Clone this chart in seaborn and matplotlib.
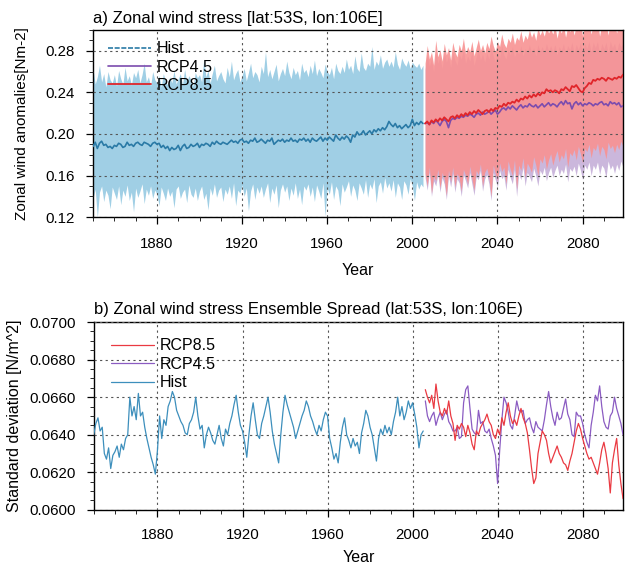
import numpy as np
import pandas as pd
import matplotlib
matplotlib.use("Agg")
import matplotlib.pyplot as plt
from matplotlib.ticker import MultipleLocator
import seaborn as sns

# ---------------- data ----------------
hist_years = list(range(1850, 2006))
rcp_years = list(range(2006, 2100))

hist_mean = [
    0.188, 0.192, 0.186, 0.191, 0.193, 0.189, 0.190, 0.187, 0.188, 0.186,
    0.189, 0.188, 0.191, 0.190, 0.187, 0.188, 0.192, 0.189, 0.190, 0.188,
    0.191, 0.192, 0.190, 0.189, 0.192, 0.191, 0.190, 0.188, 0.191, 0.192,
    0.190, 0.191, 0.187, 0.189, 0.186, 0.188, 0.184, 0.187, 0.185, 0.186,
    0.189, 0.184, 0.188, 0.190, 0.186, 0.187, 0.190, 0.188, 0.189, 0.191,
    0.187, 0.190, 0.189, 0.191, 0.190, 0.188, 0.192, 0.190, 0.193, 0.191,
    0.190, 0.192, 0.191, 0.190, 0.192, 0.194, 0.192, 0.193, 0.191, 0.194,
    0.195, 0.192, 0.193, 0.191, 0.194, 0.193, 0.196, 0.192, 0.193, 0.195,
    0.193, 0.191, 0.194, 0.193, 0.196, 0.190, 0.192, 0.194, 0.193, 0.195,
    0.192, 0.194, 0.193, 0.196, 0.193, 0.194, 0.192, 0.195, 0.194, 0.196,
    0.193, 0.195, 0.192, 0.196, 0.194, 0.193, 0.195, 0.197, 0.193, 0.196,
    0.194, 0.197, 0.195, 0.193, 0.199, 0.196, 0.194, 0.197, 0.195, 0.198,
    0.196, 0.192, 0.199, 0.197, 0.202, 0.199, 0.200, 0.203, 0.199, 0.201,
    0.203, 0.200, 0.204, 0.202, 0.205, 0.203, 0.206, 0.204, 0.207, 0.212,
    0.209, 0.207, 0.210, 0.206, 0.208, 0.205, 0.207, 0.209, 0.206, 0.208,
    0.214, 0.208, 0.211, 0.209, 0.212, 0.210]

hist_upper = [
    0.262, 0.248, 0.255, 0.266, 0.250, 0.258, 0.245, 0.260, 0.252, 0.249,
    0.257, 0.246, 0.261, 0.253, 0.248, 0.264, 0.251, 0.256, 0.247, 0.259,
    0.254, 0.262, 0.249, 0.257, 0.268, 0.250, 0.255, 0.246, 0.260, 0.252,
    0.249, 0.256, 0.245, 0.258, 0.251, 0.247, 0.255, 0.249, 0.261, 0.248,
    0.253, 0.258, 0.247, 0.262, 0.250, 0.256, 0.252, 0.246, 0.259, 0.254,
    0.257, 0.250, 0.272, 0.255, 0.261, 0.249, 0.258, 0.266, 0.251, 0.256,
    0.260, 0.253, 0.249, 0.264, 0.255, 0.270, 0.252, 0.258, 0.262, 0.250,
    0.256, 0.263, 0.251, 0.259, 0.268, 0.254, 0.260, 0.257, 0.250, 0.265,
    0.258, 0.279, 0.255, 0.262, 0.253, 0.260, 0.267, 0.251, 0.258, 0.263,
    0.256, 0.270, 0.259, 0.253, 0.264, 0.257, 0.261, 0.252, 0.268, 0.259,
    0.262, 0.255, 0.266, 0.258, 0.271, 0.256, 0.263, 0.259, 0.254, 0.267,
    0.260, 0.257, 0.264, 0.253, 0.268, 0.261, 0.258, 0.265, 0.259, 0.272,
    0.262, 0.266, 0.258, 0.275, 0.263, 0.260, 0.278, 0.264, 0.261, 0.268,
    0.265, 0.284, 0.262, 0.270, 0.266, 0.276, 0.263, 0.269, 0.272, 0.265,
    0.270, 0.264, 0.279, 0.267, 0.262, 0.273, 0.268, 0.265, 0.271, 0.263,
    0.269, 0.266, 0.264, 0.268, 0.262, 0.266]

hist_lower = [
    0.138, 0.147, 0.120, 0.144, 0.150, 0.135, 0.146, 0.141, 0.128, 0.149,
    0.143, 0.137, 0.150, 0.132, 0.146, 0.140, 0.151, 0.136, 0.144, 0.125,
    0.148, 0.139, 0.145, 0.152, 0.133, 0.147, 0.141, 0.150, 0.138, 0.146,
    0.142, 0.131, 0.149, 0.143, 0.136, 0.148, 0.140, 0.145, 0.129, 0.147,
    0.150, 0.138, 0.144, 0.147, 0.134, 0.151, 0.142, 0.139, 0.148, 0.136,
    0.145, 0.150, 0.137, 0.143, 0.127, 0.148, 0.141, 0.152, 0.139, 0.146,
    0.149, 0.135, 0.147, 0.142, 0.150, 0.138, 0.153, 0.131, 0.146, 0.143,
    0.151, 0.140, 0.148, 0.126, 0.145, 0.152, 0.137, 0.149, 0.143, 0.150,
    0.139, 0.147, 0.153, 0.134, 0.148, 0.142, 0.151, 0.129, 0.146, 0.152,
    0.144, 0.150, 0.136, 0.148, 0.141, 0.153, 0.138, 0.147, 0.132, 0.150,
    0.146, 0.152, 0.140, 0.149, 0.135, 0.151, 0.145, 0.138, 0.153, 0.121,
    0.148, 0.142, 0.154, 0.137, 0.150, 0.146, 0.131, 0.152, 0.144, 0.149,
    0.155, 0.140, 0.151, 0.146, 0.136, 0.153, 0.148, 0.142, 0.156, 0.139,
    0.152, 0.147, 0.157, 0.134, 0.150, 0.154, 0.143, 0.158, 0.148, 0.153,
    0.145, 0.156, 0.139, 0.153, 0.149, 0.137, 0.155, 0.151, 0.142, 0.157,
    0.150, 0.136, 0.154, 0.147, 0.152, 0.149]

rcp85_mean = [
    0.210, 0.212, 0.209, 0.213, 0.211, 0.214, 0.212, 0.215, 0.213, 0.216,
    0.214, 0.212, 0.216, 0.217, 0.215, 0.218, 0.216, 0.219, 0.217, 0.220,
    0.218, 0.221, 0.219, 0.222, 0.220, 0.223, 0.221, 0.219, 0.222, 0.223,
    0.221, 0.224, 0.222, 0.225, 0.224, 0.227, 0.226, 0.229, 0.227, 0.230,
    0.229, 0.231, 0.230, 0.233, 0.231, 0.234, 0.233, 0.236, 0.234, 0.237,
    0.235, 0.238, 0.236, 0.239, 0.237, 0.240, 0.239, 0.243, 0.241, 0.242,
    0.240, 0.242, 0.241, 0.239, 0.243, 0.242, 0.245, 0.243, 0.241, 0.246,
    0.245, 0.247, 0.244, 0.241, 0.240, 0.244, 0.246, 0.249, 0.248, 0.252,
    0.251, 0.253, 0.252, 0.254, 0.253, 0.251, 0.254, 0.253, 0.252, 0.254,
    0.253, 0.255, 0.254, 0.257]

rcp45_mean = [
    0.210, 0.211, 0.209, 0.212, 0.210, 0.213, 0.211, 0.208, 0.212, 0.214,
    0.212, 0.206, 0.213, 0.215, 0.214, 0.216, 0.215, 0.217, 0.216, 0.218,
    0.217, 0.219, 0.218, 0.216, 0.219, 0.220, 0.218, 0.221, 0.219, 0.220,
    0.222, 0.219, 0.221, 0.223, 0.219, 0.221, 0.224, 0.225, 0.223, 0.226,
    0.224, 0.227, 0.225, 0.223, 0.226, 0.228, 0.225, 0.227, 0.226, 0.229,
    0.227, 0.226, 0.228, 0.225, 0.227, 0.229, 0.226, 0.228, 0.230, 0.227,
    0.229, 0.228, 0.226, 0.229, 0.231, 0.228, 0.232, 0.229, 0.230, 0.224,
    0.229, 0.231, 0.228, 0.230, 0.227, 0.229, 0.228, 0.230, 0.229, 0.227,
    0.229, 0.228, 0.230, 0.231, 0.228, 0.229, 0.227, 0.231, 0.229, 0.230,
    0.228, 0.230, 0.226, 0.227]

rcp85_upper = [
    0.268, 0.285, 0.272, 0.279, 0.266, 0.290, 0.274, 0.281, 0.270, 0.287,
    0.276, 0.283, 0.271, 0.288, 0.279, 0.274, 0.286, 0.280, 0.292, 0.277,
    0.284, 0.279, 0.289, 0.275, 0.283, 0.291, 0.280, 0.286, 0.278, 0.288,
    0.282, 0.294, 0.285, 0.279, 0.289, 0.284, 0.296, 0.287, 0.283, 0.292,
    0.288, 0.297, 0.286, 0.293, 0.290, 0.299, 0.288, 0.295, 0.291, 0.300,
    0.293, 0.298, 0.290, 0.302, 0.295, 0.300, 0.294, 0.303, 0.297, 0.301,
    0.296, 0.304, 0.292, 0.302, 0.297, 0.305, 0.293, 0.303, 0.298, 0.306,
    0.295, 0.304, 0.299, 0.306, 0.294, 0.305, 0.300, 0.307, 0.296, 0.306,
    0.302, 0.308, 0.294, 0.306, 0.301, 0.307, 0.295, 0.308, 0.302, 0.306,
    0.297, 0.307, 0.303, 0.306]

rcp85_lower = [
    0.162, 0.150, 0.168, 0.143, 0.160, 0.155, 0.166, 0.148, 0.163, 0.157,
    0.141, 0.165, 0.154, 0.168, 0.149, 0.162, 0.158, 0.145, 0.166, 0.160,
    0.152, 0.169, 0.157, 0.146, 0.165, 0.161, 0.171, 0.150, 0.163, 0.167,
    0.158, 0.140, 0.170, 0.162, 0.155, 0.172, 0.164, 0.168, 0.152, 0.174,
    0.166, 0.160, 0.175, 0.147, 0.170, 0.165, 0.177, 0.158, 0.172, 0.168,
    0.163, 0.178, 0.170, 0.160, 0.176, 0.172, 0.180, 0.166, 0.175, 0.181,
    0.170, 0.178, 0.184, 0.173, 0.180, 0.176, 0.186, 0.168, 0.182, 0.179,
    0.185, 0.175, 0.188, 0.181, 0.172, 0.186, 0.183, 0.190, 0.177, 0.187,
    0.184, 0.191, 0.179, 0.188, 0.185, 0.176, 0.192, 0.186, 0.189, 0.182,
    0.190, 0.185, 0.193, 0.188]

rcp45_upper = [
    0.262, 0.276, 0.265, 0.272, 0.260, 0.280, 0.268, 0.274, 0.263, 0.278,
    0.269, 0.275, 0.264, 0.279, 0.271, 0.266, 0.277, 0.272, 0.282, 0.268,
    0.275, 0.270, 0.280, 0.266, 0.274, 0.281, 0.271, 0.277, 0.269, 0.278,
    0.272, 0.283, 0.275, 0.269, 0.279, 0.273, 0.285, 0.276, 0.272, 0.281,
    0.276, 0.284, 0.274, 0.280, 0.277, 0.285, 0.275, 0.282, 0.278, 0.286,
    0.278, 0.283, 0.275, 0.286, 0.279, 0.284, 0.278, 0.287, 0.280, 0.285,
    0.279, 0.286, 0.276, 0.284, 0.280, 0.287, 0.277, 0.285, 0.281, 0.288,
    0.278, 0.286, 0.281, 0.288, 0.277, 0.287, 0.282, 0.289, 0.279, 0.288,
    0.283, 0.289, 0.277, 0.287, 0.282, 0.288, 0.278, 0.289, 0.283, 0.287,
    0.279, 0.288, 0.284, 0.287]

rcp45_lower = [
    0.158, 0.146, 0.163, 0.140, 0.155, 0.150, 0.161, 0.144, 0.158, 0.152,
    0.137, 0.160, 0.149, 0.162, 0.144, 0.157, 0.153, 0.140, 0.161, 0.155,
    0.148, 0.163, 0.152, 0.141, 0.159, 0.156, 0.165, 0.145, 0.157, 0.161,
    0.152, 0.136, 0.163, 0.156, 0.149, 0.165, 0.157, 0.160, 0.146, 0.166,
    0.158, 0.152, 0.166, 0.140, 0.162, 0.156, 0.168, 0.150, 0.163, 0.159,
    0.154, 0.167, 0.160, 0.150, 0.165, 0.161, 0.168, 0.155, 0.163, 0.168,
    0.158, 0.165, 0.170, 0.160, 0.166, 0.162, 0.171, 0.154, 0.167, 0.164,
    0.169, 0.160, 0.172, 0.165, 0.156, 0.170, 0.166, 0.173, 0.160, 0.170,
    0.166, 0.173, 0.161, 0.170, 0.167, 0.158, 0.174, 0.166, 0.170, 0.162,
    0.171, 0.165, 0.174, 0.168]

hist_sd = [
    0.0640, 0.0646, 0.0649, 0.0642, 0.0644, 0.0630, 0.0627, 0.0633, 0.0622, 0.0629,
    0.0631, 0.0634, 0.0628, 0.0635, 0.0632, 0.0638, 0.0640, 0.0660, 0.0650, 0.0655,
    0.0648, 0.0662, 0.0650, 0.0652, 0.0644, 0.0638, 0.0633, 0.0628, 0.0624, 0.0619,
    0.0632, 0.0650, 0.0638, 0.0648, 0.0645, 0.0655, 0.0658, 0.0663, 0.0660, 0.0653,
    0.0650, 0.0647, 0.0645, 0.0641, 0.0640, 0.0646, 0.0648, 0.0652, 0.0660, 0.0650,
    0.0643, 0.0645, 0.0633, 0.0640, 0.0644, 0.0641, 0.0637, 0.0635, 0.0640, 0.0645,
    0.0638, 0.0634, 0.0643, 0.0640, 0.0646, 0.0650, 0.0656, 0.0661, 0.0652, 0.0645,
    0.0642, 0.0636, 0.0628, 0.0640, 0.0650, 0.0657, 0.0648, 0.0640, 0.0638, 0.0646,
    0.0650, 0.0655, 0.0660, 0.0652, 0.0642, 0.0635, 0.0630, 0.0625, 0.0640, 0.0652,
    0.0661, 0.0656, 0.0652, 0.0648, 0.0644, 0.0638, 0.0642, 0.0646, 0.0650, 0.0653,
    0.0658, 0.0655, 0.0650, 0.0647, 0.0643, 0.0640, 0.0645, 0.0642, 0.0648, 0.0652,
    0.0650, 0.0638, 0.0633, 0.0627, 0.0630, 0.0625, 0.0636, 0.0644, 0.0649, 0.0640,
    0.0637, 0.0633, 0.0638, 0.0634, 0.0636, 0.0630, 0.0641, 0.0646, 0.0653, 0.0650,
    0.0644, 0.0640, 0.0633, 0.0626, 0.0638, 0.0643, 0.0640, 0.0645, 0.0641, 0.0644,
    0.0640, 0.0647, 0.0652, 0.0660, 0.0650, 0.0655, 0.0648, 0.0652, 0.0658, 0.0654,
    0.0657, 0.0651, 0.0644, 0.0633, 0.0640, 0.0642]

rcp85_sd = [
    0.0664, 0.0660, 0.0657, 0.0661, 0.0654, 0.0667, 0.0658, 0.0652, 0.0650, 0.0654,
    0.0651, 0.0658, 0.0650, 0.0646, 0.0637, 0.0645, 0.0643, 0.0646, 0.0644, 0.0639,
    0.0645, 0.0641, 0.0635, 0.0632, 0.0642, 0.0640, 0.0644, 0.0646, 0.0648, 0.0651,
    0.0647, 0.0645, 0.0640, 0.0638, 0.0643, 0.0640, 0.0649, 0.0645, 0.0652, 0.0657,
    0.0650, 0.0646, 0.0648, 0.0645, 0.0650, 0.0654, 0.0649, 0.0646, 0.0641, 0.0632,
    0.0622, 0.0614, 0.0617, 0.0630, 0.0636, 0.0642, 0.0640, 0.0637, 0.0630, 0.0625,
    0.0628, 0.0631, 0.0634, 0.0630, 0.0628, 0.0625, 0.0624, 0.0621, 0.0626, 0.0630,
    0.0636, 0.0642, 0.0646, 0.0643, 0.0638, 0.0634, 0.0630, 0.0627, 0.0628, 0.0625,
    0.0622, 0.0619, 0.0625, 0.0632, 0.0636, 0.0630, 0.0622, 0.0609, 0.0625, 0.0632,
    0.0638, 0.0624, 0.0614, 0.0606]

rcp45_sd = [
    0.0658, 0.0650, 0.0647, 0.0650, 0.0652, 0.0645, 0.0649, 0.0652, 0.0648, 0.0651,
    0.0653, 0.0647, 0.0645, 0.0642, 0.0642, 0.0644, 0.0638, 0.0639, 0.0657, 0.0664,
    0.0666, 0.0654, 0.0643, 0.0641, 0.0640, 0.0653, 0.0646, 0.0647, 0.0642, 0.0641,
    0.0643, 0.0638, 0.0634, 0.0629, 0.0614, 0.0632, 0.0648, 0.0660, 0.0657, 0.0652,
    0.0645, 0.0643, 0.0650, 0.0658, 0.0653, 0.0652, 0.0653, 0.0646, 0.0648, 0.0649,
    0.0644, 0.0641, 0.0647, 0.0644, 0.0643, 0.0642, 0.0648, 0.0656, 0.0663, 0.0655,
    0.0649, 0.0645, 0.0652, 0.0648, 0.0649, 0.0654, 0.0659, 0.0651, 0.0648, 0.0640,
    0.0639, 0.0652, 0.0650, 0.0650, 0.0646, 0.0640, 0.0636, 0.0633, 0.0645, 0.0652,
    0.0661, 0.0658, 0.0666, 0.0655, 0.0647, 0.0644, 0.0643, 0.0650, 0.0652, 0.0660,
    0.0654, 0.0650, 0.0646, 0.0640]

top_title = "a) Zonal wind stress [lat:53S, lon:106E]"
bot_title = "b) Zonal wind stress Ensemble Spread (lat:53S, lon:106E)"
top_ylabel = "Zonal wind anomalies[Nm-2]"
bot_ylabel = "Standard deviation [N/m^2]"
xlabel = "Year"
x_ticks = [1880, 1920, 1960, 2000, 2040, 2080]

# ---------------- style ----------------
sns.set_theme(style="ticks")
plt.rcParams['font.family'] = ['Liberation Sans', 'DejaVu Sans']
plt.rcParams['axes.linewidth'] = 1.0
plt.rcParams['text.color'] = 'black'
plt.rcParams['axes.labelcolor'] = 'black'
plt.rcParams['axes.titlecolor'] = 'black'

C_HIST_FILL = "#a0cfe5"
C_HIST_LINE = "#2a7aa6"
C_R85_FILL = "#f89292"
C_R85_LINE = "#e0252a"
C_R45_FILL = "#cbb7dc"
C_R45_LINE = "#7b4cae"
C_HIST_SD = "#3d8fbc"
C_R85_SD = "#ea3a42"
C_R45_SD = "#8b5cc2"

fig = plt.figure(figsize=(6.29, 5.64), dpi=100)
ax1 = fig.add_axes([0.148, 0.615, 0.8425, 0.332])
ax2 = fig.add_axes([0.149, 0.096, 0.8415, 0.333])

df_hist = pd.DataFrame({"year": hist_years, "mean": hist_mean,
                        "upper": hist_upper, "lower": hist_lower, "sd": hist_sd})
df_rcp = pd.DataFrame({"year": rcp_years, "m85": rcp85_mean, "m45": rcp45_mean,
                       "u85": rcp85_upper, "l85": rcp85_lower,
                       "u45": rcp45_upper, "l45": rcp45_lower,
                       "sd85": rcp85_sd, "sd45": rcp45_sd})

# ---- top panel ----
ax1.fill_between(df_hist["year"], df_hist["lower"], df_hist["upper"],
                 color=C_HIST_FILL, lw=0, zorder=1)
ax1.fill_between(df_rcp["year"], df_rcp["l45"], df_rcp["u45"],
                 color=C_R45_FILL, lw=0, zorder=1)
ax1.fill_between(df_rcp["year"], df_rcp["l85"], df_rcp["u85"],
                 color=C_R85_FILL, lw=0, alpha=0.9, zorder=2)
sns.lineplot(data=df_hist, x="year", y="mean", ax=ax1, color=C_HIST_LINE,
             lw=1.2, label="Hist", zorder=4)
sns.lineplot(data=df_rcp, x="year", y="m45", ax=ax1, color=C_R45_LINE,
             lw=1.2, label="RCP4.5", zorder=4)
sns.lineplot(data=df_rcp, x="year", y="m85", ax=ax1, color=C_R85_LINE,
             lw=1.3, label="RCP8.5", zorder=5)
ax1.set_ylim(0.12, 0.30)
ax1.yaxis.set_minor_locator(MultipleLocator(0.01))
ax1.set_yticks([0.12, 0.16, 0.20, 0.24, 0.28])
ax1.yaxis.set_major_formatter(matplotlib.ticker.FormatStrFormatter('%.2f'))
ax1.set_ylabel(top_ylabel, fontsize=11, labelpad=12)
ax1.set_title(top_title, loc="left", fontsize=12, pad=5)
leg1 = ax1.legend(loc="upper left", frameon=False, fontsize=11.5,
                  handlelength=2.7, handletextpad=0.35, labelspacing=0.2,
                  borderaxespad=0.2, bbox_to_anchor=(0.01, 0.99))
leg1.get_lines()[0].set_linestyle((0, (3, 1)))

# ---- bottom panel ----
sns.lineplot(data=df_rcp, x="year", y="sd85", ax=ax2, color=C_R85_SD,
             lw=0.9, label="RCP8.5", zorder=4)
sns.lineplot(data=df_rcp, x="year", y="sd45", ax=ax2, color=C_R45_SD,
             lw=0.9, label="RCP4.5", zorder=3)
sns.lineplot(data=df_hist, x="year", y="sd", ax=ax2, color=C_HIST_SD,
             lw=0.9, label="Hist", zorder=3)
ax2.set_ylim(0.060, 0.070)
ax2.set_yticks([0.060, 0.062, 0.064, 0.066, 0.068, 0.070])
ax2.yaxis.set_minor_locator(MultipleLocator(0.0005))
ax2.yaxis.set_major_formatter(matplotlib.ticker.FormatStrFormatter('%.4f'))
ax2.set_ylabel(bot_ylabel, fontsize=11.5, labelpad=5)
ax2.set_title(bot_title, loc="left", fontsize=12, pad=6)
leg2 = ax2.legend(loc="upper left", frameon=False, fontsize=11.5,
                  handlelength=2.7, handletextpad=0.35, labelspacing=0.22,
                  borderaxespad=0.2, bbox_to_anchor=(0.015, 0.965))

for ax in (ax1, ax2):
    ax.set_xlim(1850, 2099)
    ax.set_xticks(x_ticks)
    ax.xaxis.set_minor_locator(MultipleLocator(10))
    ax.tick_params(axis="both", which="major", direction="out", length=5,
                   width=0.9, labelsize=10.8, colors="black", pad=8)
    ax.tick_params(axis="both", which="minor", direction="out", length=3, width=0.7)
    ax.grid(True, which="major", color="#555555", linestyle=(0, (2, 3)), lw=0.8)
    ax.set_axisbelow(False)
    for s in ax.spines.values():
        s.set_visible(True)
        s.set_color("black")

ax1.tick_params(axis="x", which="major", pad=9)
ax1.set_xlabel(xlabel, fontsize=11.5, labelpad=9)
ax2.set_xlabel(xlabel, fontsize=11.5, labelpad=6)

fig.savefig("out.png", dpi=100)
